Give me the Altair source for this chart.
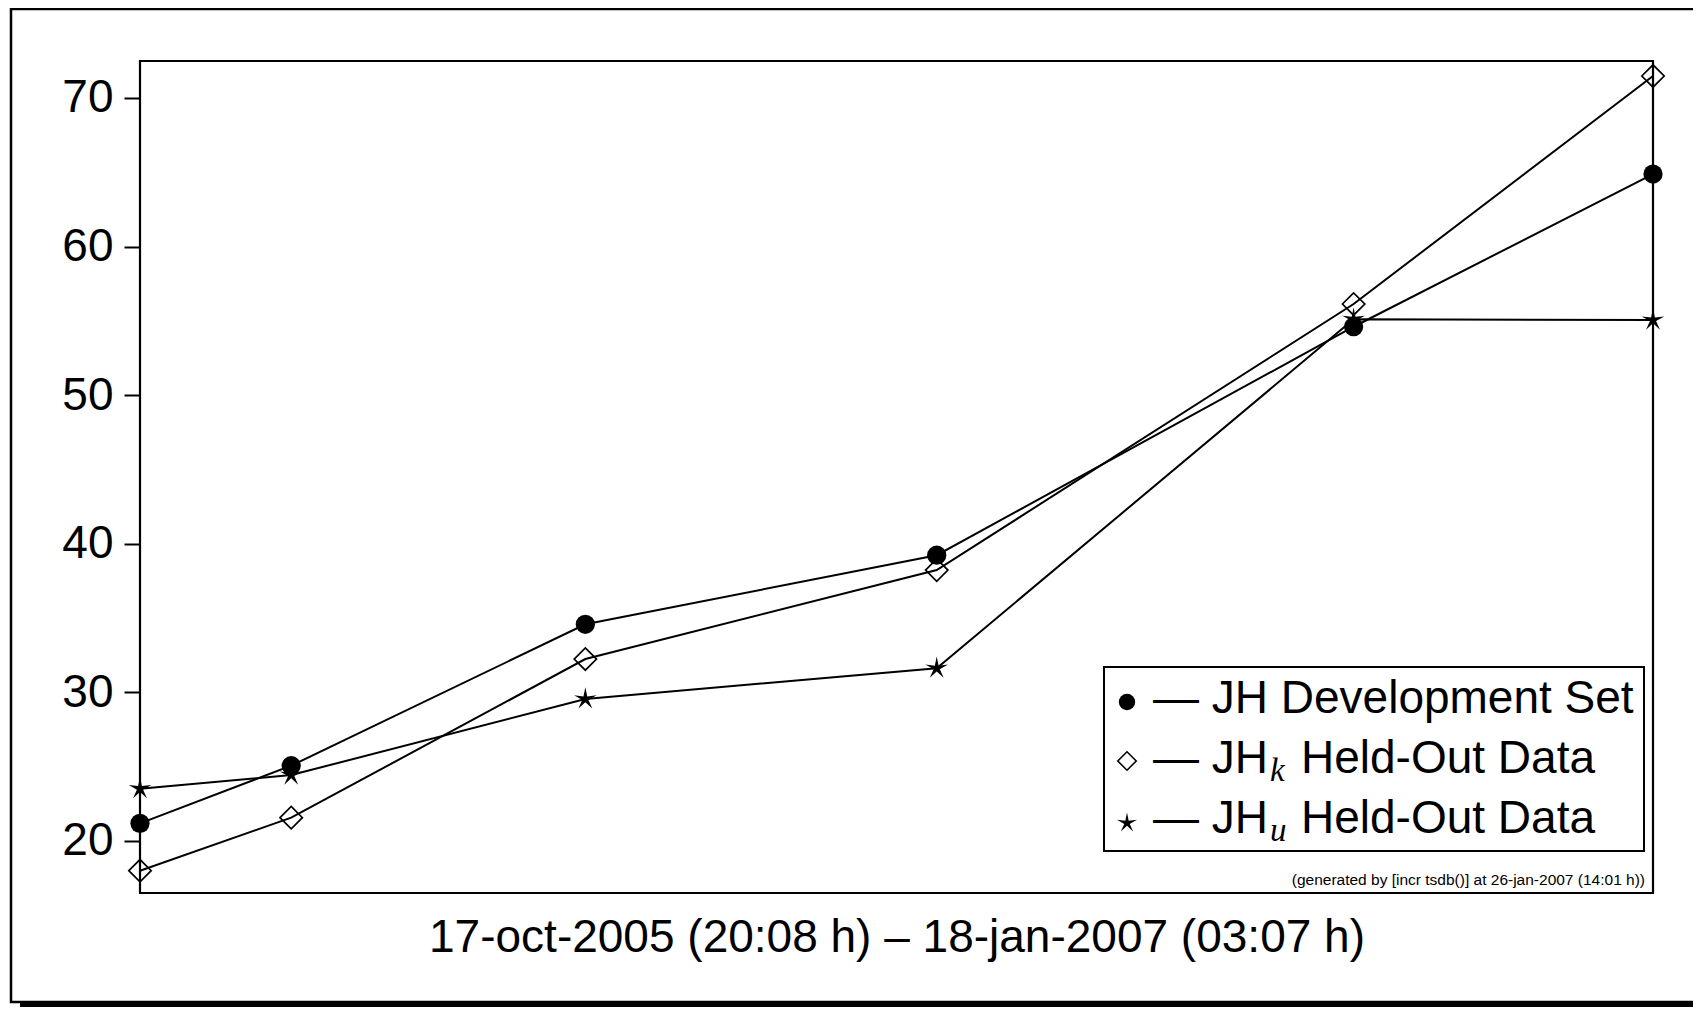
import altair as alt
import pandas as pd

# ---------------- data ----------------
series_keys = ["dev", "k", "u"]
# x positions: days since 17-oct-2005 (20:08 h)
x_days = [0.0, 45.7, 134.6, 240.8, 366.8, 457.29]
dev_vals = [21.17, 25.05, 34.57, 39.22, 54.6, 64.88]
k_vals = [17.98, 21.55, 32.23, 38.22, 56.13, 71.48]
u_vals = [23.5, 24.42, 29.54, 31.61, 55.1, 55.05]
y_ticks = [20, 30, 40, 50, 60, 70]
x_domain = [0.0, 457.29]
y_domain = [16.48, 72.49]

x_title = "17-oct-2005 (20:08 h) \u2013 18-jan-2007 (03:07 h)"
credit_text = "(generated by [incr tsdb()] at 26-jan-2007 (14:01 h))"
legend_main = ["\u2014 JH Development Set", "\u2014 JH", "\u2014 JH"]
legend_sub = ["", "k", "u"]
legend_rest = ["", "Held-Out Data", "Held-Out Data"]

FONT = "Liberation Sans"
SERIF = "Liberation Serif"
STAR = ("M0,-1 L0.16,-0.22 L0.951,-0.309 L0.26,0.085 L0.588,0.809 "
        "L0,0.27 L-0.588,0.809 L-0.26,0.085 L-0.951,-0.309 L-0.16,-0.22 Z")

rows = []
for key, vals in zip(series_keys, [dev_vals, k_vals, u_vals]):
    for d, v in zip(x_days, vals):
        rows.append({"series": key, "day": d, "value": v})
df = pd.DataFrame(rows)
one = pd.DataFrame({"a": [0]})

W, H = 1513, 832
PAD = {"left": 132, "top": 53, "right": 40, "bottom": 114}

xs = alt.X(
    "day:Q",
    scale=alt.Scale(domain=x_domain, nice=False, zero=False),
    axis=alt.Axis(
        title=x_title, labels=False, ticks=False, domain=False, grid=False,
        titleFont=FONT, titleFontSize=46, titleFontWeight="normal",
        titleColor="black", titlePadding=22,
    ),
)
ys = alt.Y(
    "value:Q",
    scale=alt.Scale(domain=y_domain, nice=False, zero=False),
    axis=alt.Axis(
        title=None, values=y_ticks, tickSize=16, tickWidth=2, tickColor="black",
        labelFont=FONT, labelFontSize=46, labelColor="black", labelPadding=11,
        domain=False, grid=False,
    ),
)

# outer frame and its shadow
frame = alt.Chart(one).mark_rect(fillOpacity=0, stroke="black", strokeWidth=2.5).encode(
    x=alt.value(-129), x2=alt.value(W + 80), y=alt.value(-52), y2=alt.value(941)
)
shadow = alt.Chart(one).mark_rect(color="black").encode(
    x=alt.value(-120), x2=alt.value(W + 80), y=alt.value(941), y2=alt.value(960)
)

lines = alt.Chart(df).mark_line(color="black", strokeWidth=2).encode(
    x=xs, y=ys, detail="series:N"
)

pts_dev = alt.Chart(df).transform_filter(alt.datum.series == "dev").mark_point(
    shape="circle", filled=True, color="black", size=370, opacity=1
).encode(x=xs, y=ys)
pts_k = alt.Chart(df).transform_filter(alt.datum.series == "k").mark_point(
    shape="diamond", filled=False, color="black", size=500, strokeWidth=1.7, opacity=1
).encode(x=xs, y=ys)
pts_u = alt.Chart(df).transform_filter(alt.datum.series == "u").mark_point(
    shape=STAR, filled=True, color="black", size=560, opacity=1
).encode(x=xs, y=ys)

# legend (drawn by hand to allow subscripts)
leg_box = alt.Chart(one).mark_rect(fill="white", stroke="black", strokeWidth=2).encode(
    x=alt.value(964), x2=alt.value(1504), y=alt.value(606), y2=alt.value(790)
)
row_base = [652, 712, 772]
sym_x = 987
leg_layers = [leg_box]
leg_layers.append(alt.Chart(one).mark_point(shape="circle", filled=True, color="black",
                                            size=270, opacity=1).encode(
    x=alt.value(sym_x), y=alt.value(row_base[0] - 11)))
leg_layers.append(alt.Chart(one).mark_point(shape="diamond", filled=False, color="black",
                                            size=340, strokeWidth=1.6, opacity=1).encode(
    x=alt.value(sym_x), y=alt.value(row_base[1] - 12)))
leg_layers.append(alt.Chart(one).mark_point(shape=STAR, filled=True, color="black",
                                            size=440, opacity=1).encode(
    x=alt.value(sym_x), y=alt.value(row_base[2] - 10)))
for i in range(3):
    leg_layers.append(alt.Chart(one).mark_text(
        text=legend_main[i], align="left", baseline="alphabetic", font=FONT,
        fontSize=46, color="black").encode(x=alt.value(1013), y=alt.value(row_base[i])))
    if legend_sub[i]:
        leg_layers.append(alt.Chart(one).mark_text(
            text=legend_sub[i], align="left", baseline="alphabetic", font=SERIF,
            fontStyle="italic", fontSize=33, color="black").encode(
            x=alt.value(1130), y=alt.value(row_base[i] + 8)))
        leg_layers.append(alt.Chart(one).mark_text(
            text=legend_rest[i], align="left", baseline="alphabetic", font=FONT,
            fontSize=46, color="black").encode(x=alt.value(1161), y=alt.value(row_base[i])))

credit = alt.Chart(one).mark_text(
    text=credit_text, align="right", baseline="alphabetic", font=FONT,
    fontSize=15.5, color="black"
).encode(x=alt.value(1505), y=alt.value(824))

chart = alt.layer(
    frame, shadow, lines, pts_dev, pts_k, pts_u, *leg_layers, credit
).properties(
    width=W, height=H,
    background="white",
    autosize=alt.AutoSizeParams(type="none"),
    padding=PAD,
).configure_view(
    stroke="black", strokeWidth=2.2
)

chart.save("out.html", embed_options={"renderer": "svg", "actions": False})
